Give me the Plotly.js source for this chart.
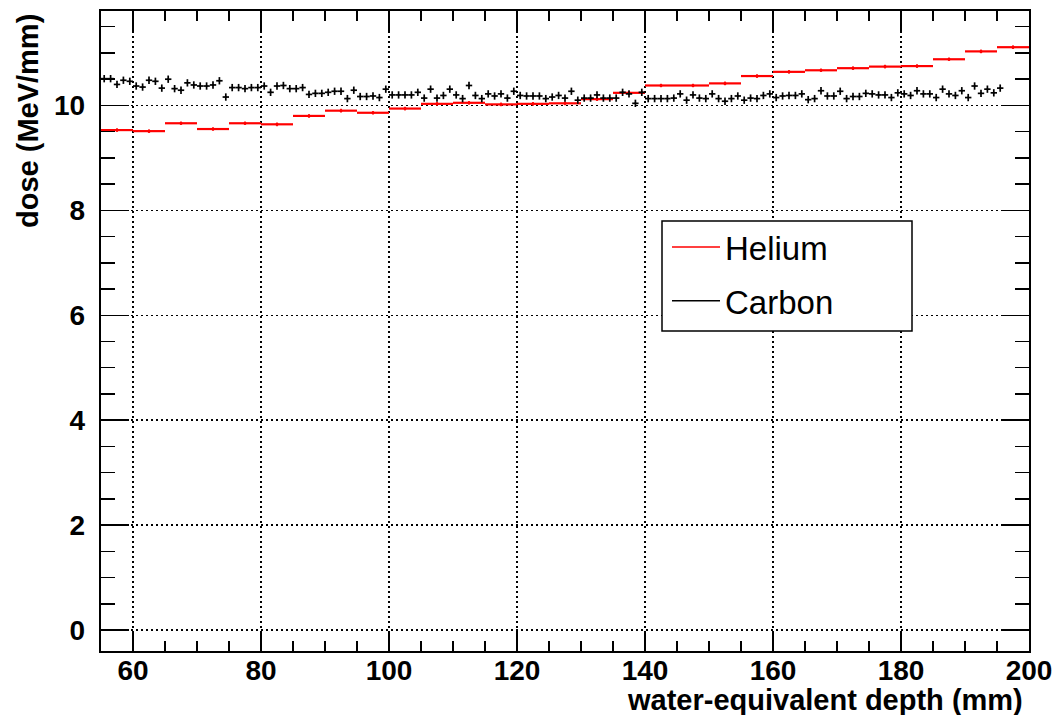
<!DOCTYPE html>
<html>
<head>
<meta charset="utf-8">
<script src="https://cdn.plot.ly/plotly-3.0.1.min.js"></script>
<style>
  html, body { margin: 0; padding: 0; background: #ffffff; }
  #chart { width: 1057px; height: 715px; }
</style>
</head>
<body>
<div id="chart"></div>
<script>
// Helium: 5 mm bins (bin centres), dose in MeV/mm
const heliumX = [57.5, 62.5, 67.5, 72.5, 77.5, 82.5, 87.5, 92.5, 97.5, 102.5,
  107.5, 112.5, 117.5, 122.5, 127.5, 132.5, 137.5, 142.5, 147.5, 152.5,
  157.5, 162.5, 167.5, 172.5, 177.5, 182.5, 187.5, 192.5, 197.5];
const heliumY = [9.53, 9.51, 9.66, 9.55, 9.66, 9.64, 9.80, 9.90, 9.86, 9.94,
  10.03, 10.05, 10.02, 10.03, 10.04, 10.12, 10.24, 10.38, 10.38, 10.42,
  10.56, 10.64, 10.67, 10.71, 10.74, 10.75, 10.88, 11.03, 11.11];
const heliumHalfWidth = 2.5;
const heliumErr = 0.035;

// Carbon: 1 mm bins (bin centres), dose in MeV/mm
const carbonX = [55.5, 56.5, 57.5, 58.5, 59.5, 60.5, 61.5, 62.5, 63.5, 64.5,
  65.5, 66.5, 67.5, 68.5, 69.5, 70.5, 71.5, 72.5, 73.5, 74.5,
  75.5, 76.5, 77.5, 78.5, 79.5, 80.5, 81.5, 82.5, 83.5, 84.5,
  85.5, 86.5, 87.5, 88.5, 89.5, 90.5, 91.5, 92.5, 93.5, 94.5,
  95.5, 96.5, 97.5, 98.5, 99.5, 100.5, 101.5, 102.5, 103.5, 104.5,
  105.5, 106.5, 107.5, 108.5, 109.5, 110.5, 111.5, 112.5, 113.5, 114.5,
  115.5, 116.5, 117.5, 118.5, 119.5, 120.5, 121.5, 122.5, 123.5, 124.5,
  125.5, 126.5, 127.5, 128.5, 129.5, 130.5, 131.5, 132.5, 133.5, 134.5,
  135.5, 136.5, 137.5, 138.5, 139.5, 140.5, 141.5, 142.5, 143.5, 144.5,
  145.5, 146.5, 147.5, 148.5, 149.5, 150.5, 151.5, 152.5, 153.5, 154.5,
  155.5, 156.5, 157.5, 158.5, 159.5, 160.5, 161.5, 162.5, 163.5, 164.5,
  165.5, 166.5, 167.5, 168.5, 169.5, 170.5, 171.5, 172.5, 173.5, 174.5,
  175.5, 176.5, 177.5, 178.5, 179.5, 180.5, 181.5, 182.5, 183.5, 184.5,
  185.5, 186.5, 187.5, 188.5, 189.5, 190.5, 191.5, 192.5, 193.5, 194.5,
  195.5];
const carbonY = [10.51, 10.51, 10.40, 10.48, 10.46, 10.37, 10.35, 10.48, 10.46, 10.33,
  10.50, 10.32, 10.29, 10.43, 10.39, 10.37, 10.37, 10.39, 10.47, 10.16,
  10.34, 10.34, 10.32, 10.34, 10.34, 10.37, 10.25, 10.37, 10.38, 10.32,
  10.32, 10.34, 10.21, 10.23, 10.23, 10.25, 10.27, 10.27, 10.13, 10.29,
  10.17, 10.17, 10.18, 10.15, 10.31, 10.20, 10.20, 10.20, 10.20, 10.25,
  10.14, 10.31, 10.14, 10.19, 10.31, 10.20, 10.13, 10.38, 10.19, 10.13,
  10.22, 10.18, 10.22, 10.14, 10.27, 10.19, 10.18, 10.18, 10.18, 10.13,
  10.16, 10.19, 10.14, 10.27, 10.10, 10.14, 10.14, 10.20, 10.14, 10.14,
  10.14, 10.25, 10.22, 10.04, 10.25, 10.13, 10.13, 10.13, 10.13, 10.14,
  10.22, 10.10, 10.20, 10.14, 10.13, 10.22, 10.13, 10.08, 10.13, 10.18,
  10.10, 10.14, 10.13, 10.19, 10.22, 10.15, 10.18, 10.19, 10.19, 10.22,
  10.11, 10.13, 10.28, 10.18, 10.18, 10.27, 10.13, 10.17, 10.17, 10.23,
  10.22, 10.20, 10.20, 10.15, 10.24, 10.22, 10.19, 10.28, 10.22, 10.22,
  10.15, 10.31, 10.22, 10.19, 10.28, 10.15, 10.37, 10.23, 10.31, 10.24,
  10.33];
const carbonHalfWidth = 0.5;
const carbonErr = 0.07;

const seriesNames = ["Helium", "Carbon"];
const seriesColors = ["#ff0000", "#000000"];

const xTitle = "water-equivalent depth (mm)";
const yTitle = "dose (MeV/mm)";

const FONT = "'Liberation Sans', Arial, Helvetica, sans-serif";

const traces = [
  {
    type: "scatter", mode: "markers", name: seriesNames[0], showlegend: false,
    x: heliumX, y: heliumY,
    marker: { color: seriesColors[0], size: 3 },
    error_x: { type: "constant", value: heliumHalfWidth, width: 0, thickness: 2.2, color: seriesColors[0] },
    error_y: { type: "constant", value: heliumErr, width: 0, thickness: 1.5, color: seriesColors[0] },
    hoverinfo: "x+y"
  },
  {
    type: "scatter", mode: "markers", name: seriesNames[1], showlegend: false,
    x: carbonX, y: carbonY,
    marker: { color: seriesColors[1], size: 2 },
    error_x: { type: "constant", value: carbonHalfWidth, width: 0, thickness: 1.7, color: seriesColors[1] },
    error_y: { type: "constant", value: carbonErr, width: 0, thickness: 1.7, color: seriesColors[1] },
    hoverinfo: "x+y"
  },
  // legend entries
  {
    type: "scatter", mode: "lines", name: seriesNames[0], legendgroup: "he",
    x: [null], y: [null], line: { color: seriesColors[0], width: 1.5 }, hoverinfo: "skip"
  },
  {
    type: "scatter", mode: "lines", name: seriesNames[1], legendgroup: "c",
    x: [null], y: [null], line: { color: seriesColors[1], width: 1.5 }, hoverinfo: "skip"
  }
];

const W = 1057, H = 715;
const M = { l: 101, r: 28, t: 11, b: 64 };
const pw = W - M.l - M.r, ph = H - M.t - M.b;
const px = v => (v - M.l) / pw;          // pixel -> paper x
const py = v => (H - M.b - v) / ph;      // pixel -> paper y

const axisCommon = {
  ticks: "inside", tickwidth: 1.5, tickcolor: "#000",
  showline: true, linewidth: 2.2, linecolor: "#000", mirror: "ticks",
  showgrid: true, gridcolor: "#000", gridwidth: 1.5, griddash: "1.5px,3.5px",
  zeroline: false,
  tickfont: { family: FONT, size: 28, color: "#000", weight: "bold" },
  fixedrange: true
};

const layout = {
  width: W, height: H, margin: M,
  paper_bgcolor: "#fff", plot_bgcolor: "#fff",
  showlegend: true,
  xaxis: Object.assign({}, axisCommon, {
    range: [55, 200], tick0: 0, dtick: 20, ticklen: 20,
    ticklabelstandoff: -7,
    minor: { dtick: 5, ticks: "inside", ticklen: 10, tickwidth: 1.5, tickcolor: "#000", showgrid: false }
  }),
  yaxis: Object.assign({}, axisCommon, {
    range: [-0.4, 11.8], tick0: 0, dtick: 2, ticklen: 28,
    ticklabelstandoff: 8,
    minor: { dtick: 0.5, ticks: "inside", ticklen: 14, tickwidth: 1.5, tickcolor: "#000", showgrid: false }
  }),
  legend: {
    x: px(667), y: py(219), xanchor: "left", yanchor: "top",
    bgcolor: "rgba(0,0,0,0)", borderwidth: 0,
    font: { family: FONT, size: 33, color: "#000" },
    itemwidth: 48, traceorder: "grouped", tracegroupgap: 8
  },
  shapes: [
    { type: "rect", xref: "paper", yref: "paper", layer: "above",
      x0: px(662), x1: px(912), y0: py(331), y1: py(221),
      line: { color: "#000", width: 1.5 }, fillcolor: "#fff" }
  ],
  annotations: [
    { text: xTitle, xref: "paper", yref: "paper", x: px(1025), y: py(700),
      xanchor: "right", yanchor: "middle", showarrow: false,
      font: { family: FONT, size: 29, color: "#000", weight: "bold" } },
    { text: yTitle, xref: "paper", yref: "paper", x: px(28), y: py(12),
      xanchor: "center", yanchor: "top", textangle: -90, showarrow: false,
      font: { family: FONT, size: 29, color: "#000", weight: "bold" } }
  ]
};

Plotly.newPlot("chart", traces, layout, { displayModeBar: false, staticPlot: true });
</script>
</body>
</html>
